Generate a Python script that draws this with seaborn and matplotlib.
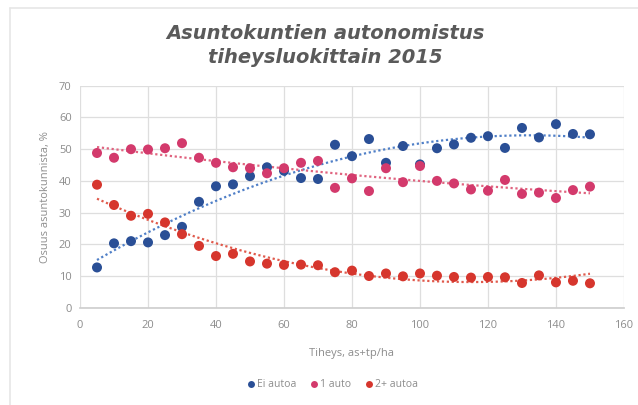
import numpy as np
import pandas as pd
import matplotlib
matplotlib.use("Agg")
import matplotlib.pyplot as plt
import seaborn as sns
from matplotlib.lines import Line2D

# Density classes (as+tp/ha) and share of households by car ownership, %
density = [5, 10, 15, 20, 25, 30, 35, 40, 45, 50, 55, 60, 65, 70, 75,
           80, 85, 90, 95, 100, 105, 110, 115, 120, 125, 130, 135, 140, 145, 150]
ei_autoa = [12.7, 20.3, 21.0, 20.6, 22.9, 25.5, 33.4, 38.3, 38.9, 41.5, 44.3, 43.2, 40.9, 40.6, 51.4,
            47.8, 53.2, 45.7, 51.0, 45.2, 50.3, 51.5, 53.6, 54.1, 50.4, 56.7, 53.7, 57.9, 54.8, 54.7]
yksi_auto = [48.8, 47.3, 50.0, 49.9, 50.3, 51.9, 47.3, 45.7, 44.3, 44.0, 42.4, 44.0, 45.7, 46.3, 37.8,
             40.8, 36.8, 44.0, 39.6, 44.7, 40.0, 39.2, 37.3, 36.9, 40.3, 35.9, 36.3, 34.6, 37.1, 38.2]
kaksi_autoa = [38.8, 32.4, 29.0, 29.6, 26.9, 23.2, 19.5, 16.3, 17.0, 14.6, 13.9, 13.5, 13.6, 13.4, 11.2,
               11.7, 10.0, 10.8, 9.9, 10.8, 10.1, 9.7, 9.5, 9.7, 9.6, 7.8, 10.2, 8.0, 8.5, 7.7]

series = ["Ei autoa", "1 auto", "2+ autoa"]
colors = {"Ei autoa": "#2a4f96", "1 auto": "#d33a6c", "2+ autoa": "#d6362d"}
trend_colors = {"Ei autoa": "#4f7fc7", "1 auto": "#e0637f", "2+ autoa": "#e05a4c"}

df = pd.DataFrame({
    "Tiheys": density * 3,
    "Osuus": ei_autoa + yksi_auto + kaksi_autoa,
    "Ryhmä": [series[0]] * len(density) + [series[1]] * len(density) + [series[2]] * len(density),
})

sns.set_theme(style="white")
plt.rcParams["font.family"] = ["Open Sans", "DejaVu Sans"]

fig = plt.figure(figsize=(6.38, 4.05), dpi=100)
ax = fig.add_axes([0.1254, 0.2402, 0.8526, 0.548])

# Faint panel edges along the top and left
fig.add_artist(Line2D([0.016, 1.0], [0.98, 0.98], transform=fig.transFigure,
                      color="#e6e6e6", linewidth=1.2))
fig.add_artist(Line2D([0.016, 0.016], [0.0, 0.98], transform=fig.transFigure,
                      color="#e6e6e6", linewidth=1.2))

grey = "#8c8c8c"
ax.set_xlim(0, 160)
ax.set_ylim(0, 70)
ax.set_xticks(range(0, 161, 20))
ax.set_yticks(range(0, 71, 10))
ax.grid(True, color="#dedede", linewidth=0.9)
ax.set_axisbelow(True)
for side in ["top", "right", "left"]:
    ax.spines[side].set_visible(False)
ax.spines["bottom"].set_color("#cfcfcf")
ax.tick_params(axis="y", colors=grey, labelsize=8, length=0, pad=6)
ax.tick_params(axis="x", colors=grey, labelsize=8, length=0, pad=9)

# Polynomial trend lines
for name in series:
    sub = df[df["Ryhmä"] == name]
    sns.regplot(data=sub, x="Tiheys", y="Osuus", order=2, ci=None, scatter=False, ax=ax,
                line_kws=dict(color=trend_colors[name], linestyle=(0, (1, 1.2)),
                              linewidth=1.6, zorder=2))

sns.scatterplot(data=df, x="Tiheys", y="Osuus", hue="Ryhmä", palette=colors,
                s=52, edgecolor="none", ax=ax, zorder=3, legend=False)

ax.set_xlabel("Tiheys, as+tp/ha", color=grey, fontsize=8, labelpad=12)
ax.set_ylabel("Osuus asuntokunnista, %", color=grey, fontsize=8, labelpad=6)

fig.text(0.51, 0.888, "Asuntokuntien autonomistus\ntiheysluokittain 2015",
         ha="center", va="center", fontsize=14, fontweight="bold", style="italic",
         color="#5a5a5a", linespacing=1.3, family=["DejaVu Sans"])

handles = [plt.Line2D([], [], marker="o", linestyle="none", markersize=5,
                      markerfacecolor=colors[n], markeredgecolor="none") for n in series]
fig.legend(handles, series, loc="center", bbox_to_anchor=(0.52, 0.05), ncol=3,
           frameon=False, fontsize=7.5, labelcolor=grey, handletextpad=0.1,
           columnspacing=1.2, handlelength=1.0)

fig.savefig("out.png", dpi=100)
